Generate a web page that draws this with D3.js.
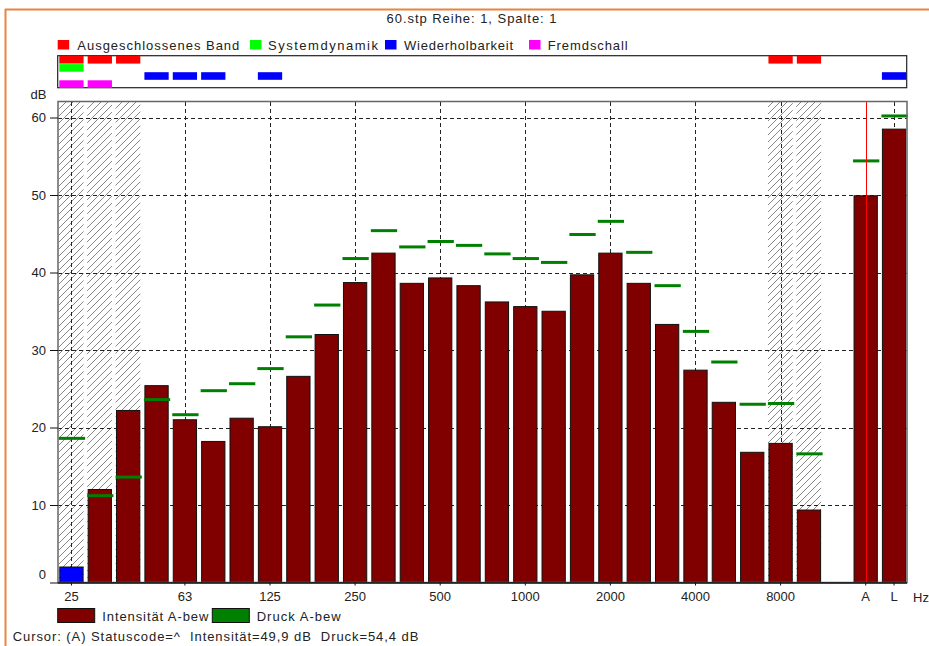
<!DOCTYPE html>
<html><head><meta charset="utf-8">
<script src="https://cdn.jsdelivr.net/npm/d3@7"></script>
<style>
html,body{margin:0;padding:0;background:#fff;}
svg{display:block;font-family:"Liberation Sans",Arial,sans-serif;}
</style></head>
<body>
<svg id="c" width="929" height="646"></svg>
<script>
// ---- data ----
const bands = ["25","31.5","40","50","63","80","100","125","160","200","250","315","400","500","630","800","1000","1250","1600","2000","2500","3150","4000","5000","6300","8000","10000"," ","A","L"];
const intensity = [2.0,12.0,22.2,25.4,21.0,18.2,21.2,20.1,26.6,32.0,38.7,42.5,38.6,39.3,38.3,36.2,35.6,35.0,39.7,42.5,38.6,33.3,27.4,23.25,16.8,17.95,9.35,null,49.9,58.5];
const pressure  = [18.6,11.2,13.6,23.6,21.65,24.75,25.65,27.6,31.7,35.8,41.8,45.4,43.3,44.0,43.5,42.4,41.8,41.3,44.9,46.6,42.6,38.3,32.4,28.45,23.0,23.1,16.6,null,54.4,60.2];
const blueBars = ["25"];
const excluded = ["25","31.5","40","8000","10000"];
const systemDyn = ["25"];
const repeatability = ["50","63","80","125","L"];
const foreignNoise = ["25","31.5"];
const xTickLabels = ["25","63","125","250","500","1000","2000","4000","8000","A","L"];
const yTicks = [0,10,20,30,40,50,60];
const cursorBand = "A";
const flagLegend = ["Ausgeschlossenes Band","Systemdynamik","Wiederholbarkeit","Fremdschall"];
const seriesLegend = ["Intensität A-bew","Druck A-bew"];

const rows = bands.map((b,i)=>({band:b, inten:intensity[i], press:pressure[i]}));

const svg = d3.select("#c");
const X0 = 58, X1 = 907, Y0 = 582.5, YT = 102;

// orange frame
svg.append("line").attr("x1",5).attr("x2",929).attr("y1",9.5).attr("y2",9.5).attr("stroke","#e8843c").attr("stroke-width",2);
svg.append("line").attr("x1",5.5).attr("x2",5.5).attr("y1",9).attr("y2",646).attr("stroke","#e8843c").attr("stroke-width",2);

// title
svg.append("text").attr("x",386.5).attr("y",23).attr("font-size",13).attr("fill","#222")
  .attr("textLength",170).attr("lengthAdjust","spacing").text("60.stp Reihe: 1, Spalte: 1");

// scales
const x = d3.scaleBand().domain(bands).range([X0, X1+0.5]).paddingInner(0.144).paddingOuter(0.046);
const y = d3.scaleLinear().domain([0,62]).range([Y0, YT]);
const bw = x.bandwidth();
const cx = b => x(b) + bw/2;

// top flag legend
const flagColors = ["#ff0000","#00ff00","#0000ff","#ff00ff"];
const flagSq = [57.7, 250, 385, 529];
const flagTx = [77.3, 268, 404, 547.7];
const flagW = [162, 110, 109, 80];
flagLegend.forEach((t,i)=>{
  svg.append("rect").attr("x",flagSq[i]).attr("y",40).attr("width",11.5).attr("height",9.5).attr("fill",flagColors[i]);
  svg.append("text").attr("x",flagTx[i]).attr("y",50).attr("font-size",13).attr("fill","#222")
    .attr("textLength",flagW[i]).attr("lengthAdjust","spacing").text(t);
});

// flag box
const FB = 55.7;
svg.append("rect").attr("x",57.7).attr("y",FB).attr("width",849).attr("height",32).attr("fill","#fff").attr("stroke","#222").attr("stroke-width",1.2);
[excluded, systemDyn, repeatability, foreignNoise].forEach((list,r)=>{
  svg.selectAll(null).data(list).enter().append("rect")
    .attr("x",d=>x(d)).attr("y",FB+0.3+r*8.1).attr("width",bw).attr("height",7.6).attr("fill",flagColors[r]);
});

// dB label
svg.append("text").attr("x",30.5).attr("y",99).attr("font-size",13).attr("fill","#222").text("dB");

// hatch pattern
const defs = svg.append("defs");
const pat = defs.append("pattern").attr("id","hatch").attr("patternUnits","userSpaceOnUse").attr("width",7).attr("height",7);
pat.append("path").attr("d","M-1,8 L8,-1 M-1,1 L1,-1 M6,8 L8,6").attr("stroke","#6a6a6a").attr("stroke-width",0.8);
svg.selectAll(".hatch").data(excluded).enter().append("rect")
  .attr("x",d=>x(d)-0.5).attr("y",YT).attr("width",bw+0.5).attr("height",Y0-YT).attr("fill","url(#hatch)");

// grid
const g = svg.append("g");
g.selectAll(".hg").data(yTicks.filter(v=>v>0)).enter().append("line")
  .attr("x1",X0).attr("x2",X1).attr("y1",d=>Math.round(y(d))+0.5).attr("y2",d=>Math.round(y(d))+0.5)
  .attr("stroke","#222").attr("stroke-dasharray","4,3");
g.selectAll(".vg").data(xTickLabels).enter().append("line")
  .attr("x1",d=>Math.round(cx(d))+0.5).attr("x2",d=>Math.round(cx(d))+0.5).attr("y1",YT).attr("y2",Y0)
  .attr("stroke","#222").attr("stroke-dasharray","4,3");

// bars
svg.selectAll(".bar").data(rows.filter(d=>d.inten!=null)).enter().append("rect")
  .attr("x",d=>x(d.band)+0.5).attr("y",d=>y(d.inten)).attr("width",bw-1).attr("height",d=>Y0-y(d.inten))
  .attr("fill",d=>blueBars.includes(d.band)?"#0000ff":"#800000").attr("stroke","#111").attr("stroke-width",1);

// pressure dashes
svg.selectAll(".pr").data(rows.filter(d=>d.press!=null)).enter().append("line")
  .attr("x1",d=>x(d.band)-0.5).attr("x2",d=>x(d.band)+bw+1.5).attr("y1",d=>y(d.press)).attr("y2",d=>y(d.press))
  .attr("stroke","#008000").attr("stroke-width",3);

// cursor line
svg.append("line").attr("x1",Math.round(cx(cursorBand))+0.5).attr("x2",Math.round(cx(cursorBand))+0.5)
  .attr("y1",YT).attr("y2",Y0).attr("stroke","#ff0000").attr("stroke-width",1);

// frame
svg.append("rect").attr("x",X0).attr("y",YT-0.5).attr("width",X1-X0).attr("height",Y0-YT+0.5)
  .attr("fill","none").attr("stroke","#666").attr("stroke-width",1.5);
svg.append("line").attr("x1",X0).attr("x2",X1).attr("y1",Y0+0.5).attr("y2",Y0+0.5).attr("stroke","#111").attr("stroke-width",1.5);

// y axis
const ya = d3.axisLeft(y).tickValues(yTicks).tickSize(8).tickPadding(4);
const yg = svg.append("g").attr("transform",`translate(${X0},0)`).call(ya);
yg.select(".domain").remove();
yg.selectAll("text").attr("font-size",13).attr("fill","#222").attr("font-family","Liberation Sans, Arial, sans-serif");
yg.selectAll(".tick").filter(d=>d===0).select("text").attr("dy","-0.3em");
yg.selectAll("line").attr("stroke","#111");

// x axis
const xa = d3.axisBottom(x).tickValues(xTickLabels).tickSize(3).tickPadding(6);
const xg = svg.append("g").attr("transform",`translate(0,${Y0})`).call(xa);
xg.select(".domain").remove();
xg.selectAll("text").attr("font-size",13).attr("fill","#222").attr("font-family","Liberation Sans, Arial, sans-serif");
xg.selectAll("line").attr("stroke","#111");
svg.append("text").attr("x",913).attr("y",602).attr("font-size",13).attr("fill","#222").text("Hz");

// bottom legend
const sCol = ["#800000","#008000"];
const sRect = [57.7, 212.3];
const sTx = [102.3, 256.7];
const sW = [106, 84];
seriesLegend.forEach((t,i)=>{
  svg.append("rect").attr("x",sRect[i]).attr("y",608.5).attr("width",37).attr("height",14).attr("fill",sCol[i]).attr("stroke","#111");
  svg.append("text").attr("x",sTx[i]).attr("y",620.5).attr("font-size",13).attr("fill","#222")
    .attr("textLength",sW[i]).attr("lengthAdjust","spacing").text(t);
});

// cursor info
const iA = bands.indexOf(cursorBand);
const fmt = v => v.toFixed(1).replace(".",",");
svg.append("text").attr("x",12.7).attr("y",641).attr("font-size",13).attr("fill","#222")
  .attr("textLength",405.6).attr("lengthAdjust","spacing").attr("xml:space","preserve")
  .text(`Cursor: (A) Statuscode=^  Intensität=${fmt(intensity[iA])} dB  Druck=${fmt(pressure[iA])} dB`);
</script>
</body></html>
